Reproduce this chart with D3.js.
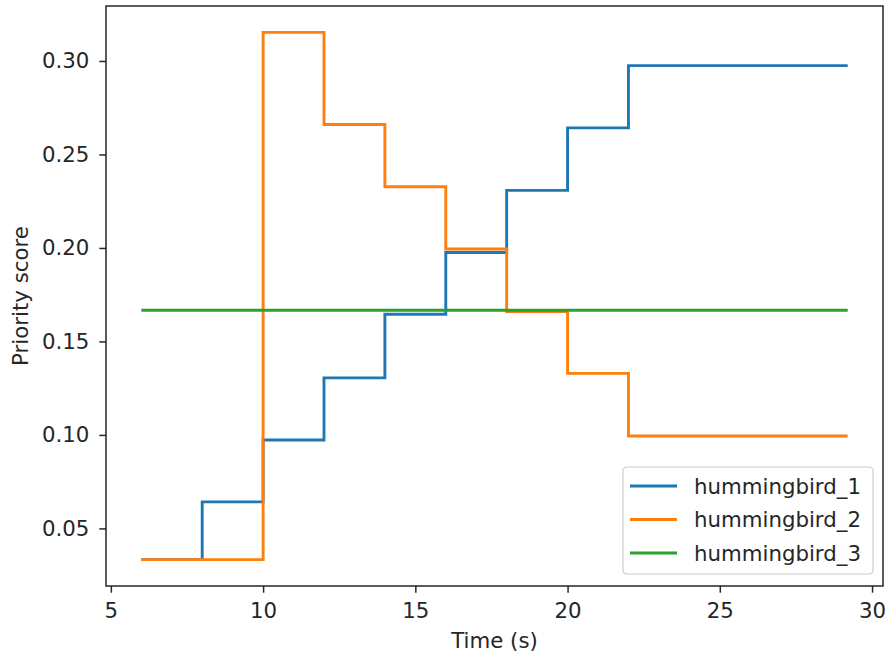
<!DOCTYPE html>
<html>
<head>
<meta charset="utf-8">
<script src="https://cdn.jsdelivr.net/npm/d3@7"></script>
<style>
  body { margin: 0; background: #fff; }
  text { font-family: "DejaVu Sans", sans-serif; fill: #262626; }
</style>
</head>
<body>
<div id="chart"></div>
<script>
// data
const times = [6, 8, 10, 12, 14, 16, 18, 20, 22, 29.2];
const bird1 = [0.0333, 0.0642, 0.0973, 0.1305, 0.1645, 0.1976, 0.2308, 0.2642, 0.2975, 0.2975];
const bird2 = [0.0333, 0.0333, 0.3153, 0.2660, 0.2327, 0.1994, 0.1660, 0.1329, 0.0994, 0.0994];
const bird3 = [0.1667, 0.1667, 0.1667, 0.1667, 0.1667, 0.1667, 0.1667, 0.1667, 0.1667, 0.1667];
const seriesNames = ['hummingbird_1', 'hummingbird_2', 'hummingbird_3'];
const seriesColors = ['#1f77b4', '#ff7f0e', '#2ca02c'];
const xTicks = [5, 10, 15, 20, 25, 30];
const yTicks = [0.05, 0.10, 0.15, 0.20, 0.25, 0.30];

const FONT = '21.3px';

// canvas
const W = 887, H = 658;
const margin = { top: 6, right: 4, bottom: 72, left: 106 };
const width = W - margin.left - margin.right;
const height = H - margin.top - margin.bottom;

const svg = d3.select('#chart').append('svg')
  .attr('width', W).attr('height', H);
const g = svg.append('g')
  .attr('transform', `translate(${margin.left},${margin.top})`);

// scales (matplotlib style 5% padding)
const allY = bird1.concat(bird2, bird3);
const xPad = (d3.max(times) - d3.min(times)) * 0.05;
const yPad = (d3.max(allY) - d3.min(allY)) * 0.05;
const x = d3.scaleLinear()
  .domain([d3.min(times) - xPad, d3.max(times) + xPad])
  .range([0, width]);
const y = d3.scaleLinear()
  .domain([d3.min(allY) - yPad, d3.max(allY) + yPad])
  .range([height, 0]);

// axes
const xAxis = g.append('g')
  .attr('transform', `translate(0,${height})`)
  .call(d3.axisBottom(x).tickValues(xTicks).tickSize(6.7).tickPadding(10).tickFormat(d3.format('d')));
const yAxis = g.append('g')
  .call(d3.axisLeft(y).tickValues(yTicks).tickSize(6.7).tickPadding(10).tickFormat(d3.format('.2f')));
[xAxis, yAxis].forEach(a => {
  a.select('.domain').remove();
  a.selectAll('line').attr('stroke', '#262626').attr('stroke-width', 1.5);
  a.selectAll('text').style('font-size', FONT).style('font-family', '"DejaVu Sans", sans-serif').attr('fill', '#262626');
});

// lines
const line = d3.line()
  .x(d => x(d[0]))
  .y(d => y(d[1]))
  .curve(d3.curveStepAfter);
[bird1, bird2, bird3].forEach((vals, i) => {
  g.append('path')
    .datum(times.map((t, k) => [t, vals[k]]))
    .attr('fill', 'none')
    .attr('stroke', seriesColors[i])
    .attr('stroke-width', 2.9)
    .attr('stroke-linejoin', 'miter')
    .attr('d', line);
});

// frame
g.append('rect')
  .attr('width', width).attr('height', height)
  .attr('fill', 'none').attr('stroke', '#262626').attr('stroke-width', 1.5);

// axis titles
svg.append('text')
  .attr('x', margin.left + width / 2)
  .attr('y', 648)
  .attr('text-anchor', 'middle')
  .style('font-size', FONT)
  .text('Time (s)');
svg.append('text')
  .attr('transform', `translate(28,${margin.top + height / 2}) rotate(-90)`)
  .attr('text-anchor', 'middle')
  .style('font-size', FONT)
  .text('Priority score');

// legend
const legend = svg.append('g').attr('transform', 'translate(623,467)');
legend.append('rect')
  .attr('width', 250).attr('height', 107)
  .attr('rx', 4)
  .attr('fill', '#fff').attr('fill-opacity', 0.8)
  .attr('stroke', '#cccccc').attr('stroke-width', 1.2);
seriesNames.forEach((name, i) => {
  const ly = 19 + i * 33.5;
  legend.append('line')
    .attr('x1', 7).attr('x2', 54)
    .attr('y1', ly).attr('y2', ly)
    .attr('stroke', seriesColors[i]).attr('stroke-width', 2.9);
  legend.append('text')
    .attr('x', 71).attr('y', ly + 7.5)
    .style('font-size', FONT)
    .text(name);
});
</script>
</body>
</html>
